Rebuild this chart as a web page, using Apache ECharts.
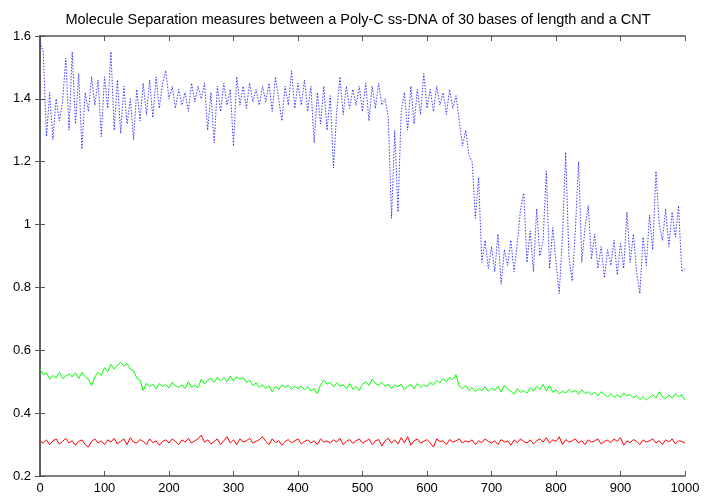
<!DOCTYPE html>
<html>
<head>
<meta charset="utf-8">
<title>Molecule Separation</title>
<script src="https://cdn.jsdelivr.net/npm/echarts@6/dist/echarts.min.js"></script>
<style>
  html, body { margin: 0; padding: 0; background: #fff; }
  #chart { width: 704px; height: 499px; }
</style>
</head>
<body>
<div id="chart"></div>
<script>
// x runs 0..1000, one value every 5 steps
const xStep = 5;
const yTicks = [0.2, 0.4, 0.6, 0.8, 1, 1.2, 1.4, 1.6];

// blue dotted series
const blueValues = [
  1.58, 1.55, 1.28, 1.42, 1.27, 1.40, 1.33, 1.39, 1.53, 1.30,
  1.55, 1.32, 1.48, 1.24, 1.42, 1.36, 1.47, 1.38, 1.46, 1.28,
  1.47, 1.37, 1.55, 1.30, 1.46, 1.29, 1.44, 1.32, 1.40, 1.27,
  1.43, 1.33, 1.45, 1.35, 1.46, 1.34, 1.47, 1.37, 1.45, 1.49,
  1.40, 1.44, 1.37, 1.43, 1.38, 1.42, 1.36, 1.45, 1.39, 1.44,
  1.40, 1.45, 1.30, 1.42, 1.26, 1.44, 1.36, 1.45, 1.38, 1.43,
  1.25, 1.47, 1.38, 1.44, 1.37, 1.45, 1.39, 1.43, 1.38, 1.44,
  1.39, 1.45, 1.36, 1.47, 1.40, 1.33, 1.44, 1.38, 1.49, 1.37,
  1.45, 1.38, 1.46, 1.36, 1.44, 1.26, 1.42, 1.32, 1.44, 1.30,
  1.41, 1.18, 1.36, 1.47, 1.35, 1.44, 1.37, 1.43, 1.38, 1.44,
  1.36, 1.45, 1.33, 1.44, 1.37, 1.45, 1.38, 1.40, 1.34, 1.02,
  1.30, 1.04, 1.36, 1.42, 1.30, 1.44, 1.32, 1.43, 1.35, 1.48,
  1.37, 1.43, 1.36, 1.44, 1.38, 1.42, 1.35, 1.43, 1.37, 1.41,
  1.33, 1.25, 1.30, 1.22, 1.20, 1.02, 1.15, 0.88, 0.95, 0.86,
  0.93, 0.85, 0.97, 0.81, 0.92, 0.87, 0.95, 0.85, 0.94, 1.05,
  1.10, 0.88, 0.98, 0.85, 1.05, 0.90, 0.95, 1.17, 0.86, 0.99,
  0.88, 0.78, 0.96, 1.23, 0.90, 0.82, 0.98, 1.20, 0.88, 0.99,
  1.06, 0.89, 0.97, 0.86, 0.93, 0.83, 0.92, 0.87, 0.95, 0.84,
  0.94, 0.86, 1.04, 0.88, 0.97, 0.85, 0.78, 0.96, 0.87, 1.03,
  0.92, 1.17, 1.00, 0.95, 1.05, 0.93, 1.04, 0.96, 1.06, 0.85,
  0.86
];

// green series
const greenValues = [
  0.54, 0.522, 0.528, 0.508, 0.52, 0.512, 0.53, 0.51, 0.518, 0.524,
  0.515, 0.528, 0.51, 0.53, 0.516, 0.508, 0.488, 0.515, 0.53, 0.52,
  0.545, 0.532, 0.555, 0.54, 0.552, 0.562, 0.55, 0.558, 0.54, 0.535,
  0.512, 0.505, 0.472, 0.495, 0.484, 0.492, 0.478, 0.494, 0.485, 0.49,
  0.48, 0.498, 0.486, 0.482, 0.49, 0.478, 0.5, 0.482, 0.49, 0.48,
  0.508, 0.492, 0.505, 0.51, 0.498, 0.514, 0.502, 0.512, 0.5, 0.518,
  0.502, 0.515, 0.508, 0.514, 0.498, 0.505, 0.488, 0.496, 0.482, 0.49,
  0.478, 0.488, 0.468, 0.485, 0.474, 0.49, 0.482, 0.488, 0.475, 0.485,
  0.478, 0.486, 0.474, 0.484, 0.47, 0.478, 0.462, 0.49, 0.505, 0.492,
  0.498, 0.484, 0.496, 0.486, 0.49, 0.478, 0.494, 0.476, 0.485, 0.472,
  0.492, 0.5, 0.488, 0.508, 0.494, 0.49, 0.498, 0.486, 0.492, 0.478,
  0.49, 0.484, 0.492, 0.474, 0.486, 0.49, 0.478, 0.494, 0.482, 0.49,
  0.484, 0.498, 0.49, 0.504, 0.496, 0.51, 0.5, 0.514, 0.506, 0.522,
  0.486, 0.478, 0.488, 0.472, 0.482, 0.468, 0.478, 0.472, 0.484, 0.47,
  0.48, 0.472, 0.486, 0.468, 0.488, 0.476, 0.47, 0.46, 0.478, 0.466,
  0.472, 0.464, 0.48, 0.47, 0.486, 0.475, 0.492, 0.47, 0.488, 0.466,
  0.474, 0.462, 0.47, 0.464, 0.476, 0.466, 0.472, 0.46, 0.474, 0.462,
  0.468, 0.458, 0.466, 0.455, 0.468, 0.46, 0.452, 0.462, 0.45, 0.458,
  0.45, 0.464, 0.455, 0.46, 0.448, 0.456, 0.444, 0.452, 0.442, 0.45,
  0.458, 0.448, 0.468, 0.452, 0.446, 0.458, 0.448, 0.462, 0.452, 0.458,
  0.442
];

// red series
const redValues = [
  0.31, 0.305, 0.315, 0.30, 0.312, 0.318, 0.302, 0.31, 0.32, 0.305,
  0.312, 0.298, 0.31, 0.315, 0.30, 0.292, 0.31, 0.318, 0.305, 0.312,
  0.30, 0.315, 0.308, 0.32, 0.302, 0.31, 0.318, 0.30, 0.322, 0.308,
  0.305, 0.316, 0.31, 0.30, 0.318, 0.306, 0.312, 0.298, 0.31, 0.315,
  0.305, 0.318, 0.31, 0.30, 0.315, 0.308, 0.32, 0.305, 0.312, 0.318,
  0.33, 0.308, 0.315, 0.302, 0.31, 0.318, 0.30, 0.312, 0.325, 0.305,
  0.315, 0.30, 0.318, 0.308, 0.312, 0.32, 0.305, 0.31, 0.316, 0.325,
  0.31, 0.30, 0.318, 0.306, 0.312, 0.298, 0.31, 0.316, 0.305, 0.312,
  0.318, 0.302, 0.31, 0.315, 0.305, 0.312, 0.30, 0.318, 0.308, 0.312,
  0.305, 0.315, 0.308, 0.32, 0.30, 0.31, 0.316, 0.304, 0.312, 0.318,
  0.305, 0.31, 0.318, 0.30, 0.312, 0.316, 0.295, 0.312, 0.32, 0.305,
  0.315, 0.302, 0.322, 0.306, 0.325, 0.298, 0.312, 0.318, 0.305, 0.31,
  0.316, 0.305, 0.292, 0.318, 0.31, 0.312, 0.30, 0.316, 0.308, 0.312,
  0.318, 0.305, 0.312, 0.308, 0.315, 0.30, 0.312, 0.306, 0.318, 0.31,
  0.305, 0.312, 0.30, 0.316, 0.308, 0.312, 0.298, 0.315, 0.306, 0.318,
  0.31, 0.305, 0.315, 0.302, 0.312, 0.318, 0.308, 0.322, 0.305, 0.315,
  0.31, 0.325, 0.30, 0.316, 0.308, 0.312, 0.318, 0.305, 0.312, 0.30,
  0.315, 0.308, 0.312, 0.318, 0.302, 0.31, 0.314, 0.306, 0.318, 0.31,
  0.322, 0.298, 0.312, 0.306, 0.316, 0.31, 0.30, 0.315, 0.308, 0.312,
  0.318, 0.305, 0.312, 0.30, 0.315, 0.308, 0.318, 0.302, 0.312, 0.31,
  0.305
];

function pairs(values) {
  return values.map((v, i) => [i * xStep, v]);
}

const axisCol = "#555";
const font = "Liberation Sans";

const chart = echarts.init(document.getElementById("chart"), null, { renderer: "canvas" });

// box around the plot: ticks pointing inward on all four sides
function boxAxis(extra) {
  return Object.assign(
    {
      type: "value",
      axisLine: { show: true, lineStyle: { color: axisCol, width: 1.5 } },
      axisTick: { show: true, inside: true, length: 5, lineStyle: { color: axisCol } },
      splitLine: { show: false },
    },
    extra
  );
}

const option = {
  animation: false,
  backgroundColor: "#fff",
  title: {
    text: "Molecule Separation measures between a Poly-C ss-DNA of 30 bases of length and a CNT",
    left: 353,
    textAlign: "center",
    top: 7,
    textStyle: { fontFamily: font, fontSize: 14.5, fontWeight: "normal", color: "#000" },
  },
  grid: { left: 40, right: 19, top: 36, bottom: 23, containLabel: false },
  xAxis: [
    boxAxis({
      min: 0, max: 1000, interval: 100, position: "bottom",
      axisLabel: { fontFamily: font, fontSize: 13, color: "#000", margin: 6, formatter: (v) => String(v) },
    }),
    boxAxis({ min: 0, max: 1000, interval: 100, position: "top", axisLabel: { show: false } }),
  ],
  yAxis: [
    boxAxis({
      min: 0.2, max: 1.6, interval: 0.2, position: "left",
      axisLabel: {
        fontFamily: font,
        fontSize: 13,
        color: "#000",
        margin: 9,
        formatter: (v) => {
          const t = yTicks.find((k) => Math.abs(k - v) < 1e-6);
          return t === undefined ? "" : String(t);
        },
      },
    }),
    boxAxis({ min: 0.2, max: 1.6, interval: 0.2, position: "right", axisLabel: { show: false } }),
  ],
  series: [
    {
      name: "blue",
      type: "line",
      data: pairs(blueValues),
      showSymbol: false,
      lineStyle: { color: "#0000ff", width: 1, type: [1.5, 1.5], opacity: 0.75 },
    },
    {
      name: "green",
      type: "line",
      data: pairs(greenValues),
      showSymbol: false,
      lineStyle: { color: "#00ff00", width: 1 },
    },
    {
      name: "red",
      type: "line",
      data: pairs(redValues),
      showSymbol: false,
      lineStyle: { color: "#ff0000", width: 1 },
    },
  ],
};

chart.setOption(option);
</script>
</body>
</html>
